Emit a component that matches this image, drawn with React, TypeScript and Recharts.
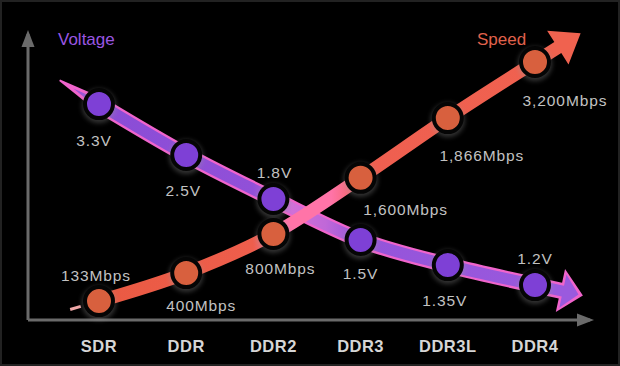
import React from 'react';
import { ComposedChart, Line, XAxis, YAxis, LabelList } from 'recharts';

// memory generations along the x axis
const categories = ['SDR', 'DDR', 'DDR2', 'DDR3', 'DDR3L', 'DDR4'];

// the picture is a schematic: heights (0-100)
const voltageLevel = [75.5, 57.7, 42.3, 28.0, 19.2, 12.2];
const speedLevel = [6.6, 16.4, 30.1, 49.7, 70.6, 90.2];

// printed values
const voltageLabels = ['3.3V', '2.5V', '1.8V', '1.5V', '1.35V', '1.2V'];
const speedLabels = ['133Mbps', '400Mbps', '800Mbps', '1,600Mbps', '1,866Mbps', '3,200Mbps'];

// where each value label sits relative to its dot (dx, dy)
const voltageLabelOffset: [number, number][] = [[-5, 36], [-3, 36], [1, -27], [0, 34], [-3, 35], [0, -27]];
const speedLabelOffset: [number, number][] = [[-3, -26], [15, 32], [7, 35], [45, 32], [34, 37], [30, 38]];

const FONT = '"Liberation Sans", Arial, sans-serif';

const rows = categories.map((name, i) => ({
  name,
  voltage: voltageLevel[i],
  speed: speedLevel[i],
  vLabel: voltageLabels[i],
  sLabel: speedLabels[i],
}));

const makeDot = (fill: string) => (props: any) => {
  const { cx, cy, index } = props;
  return (
    <g key={`dot-${fill}-${index}`}>
      <circle cx={cx} cy={cy + 2} r={17} fill="#9a9a9a" opacity={0.35} filter="url(#dotGlow)" />
      <circle cx={cx} cy={cy} r={14} fill={fill} stroke="#050505" strokeWidth={4} />
    </g>
  );
};

const makeLabel = (offsets: [number, number][]) => (props: any) => {
  const { x, y, value, index } = props;
  const [dx, dy] = offsets[index] || [0, 0];
  return (
    <text
      key={`lbl-${value}`}
      x={Number(x) + dx}
      y={Number(y) + dy}
      textAnchor="middle"
      dominantBaseline="central"
      fill="#c2c2c2"
      fontSize={15.5}
      letterSpacing={0.9}
      fontFamily={FONT}
    >
      {value}
    </text>
  );
};

export default function App() {
  return (
    <div style={{ position: 'absolute', left: 0, top: 0, width: 620, height: 366, background: '#000' }}>
      <ComposedChart width={620} height={366} data={rows} margin={{ top: 34, right: 30, bottom: 0, left: 26 }}>
        <defs>
          <filter id="dotGlow" x="-50%" y="-50%" width="200%" height="200%">
            <feGaussianBlur stdDeviation="2.5" />
          </filter>
          <marker id="axisArrow" viewBox="-14 -8 20 16" refX="0" refY="0" markerWidth="20" markerHeight="16"
            markerUnits="userSpaceOnUse" orient="auto-start-reverse">
            <path d="M-13,-6.5 L4,0 L-13,6.5 Z" fill="#6a6a6a" />
          </marker>
          <linearGradient id="vGrad" gradientUnits="userSpaceOnUse" x1="40" y1="0" x2="600" y2="0">
            <stop offset="0" stopColor="#c45ad0" />
            <stop offset="0.1" stopColor="#8a4cd6" />
            <stop offset="0.38" stopColor="#9150d8" />
            <stop offset="0.45" stopColor="#d070d8" />
            <stop offset="0.51" stopColor="#c068d8" />
            <stop offset="0.57" stopColor="#9554da" />
            <stop offset="1" stopColor="#9a5ade" />
          </linearGradient>
          <linearGradient id="sGrad" gradientUnits="userSpaceOnUse" x1="40" y1="0" x2="600" y2="0">
            <stop offset="0" stopColor="#e8583f" />
            <stop offset="0.38" stopColor="#ee5e4c" />
            <stop offset="0.43" stopColor="#ff74a8" />
            <stop offset="0.52" stopColor="#ff74a8" />
            <stop offset="0.58" stopColor="#ef5f50" />
            <stop offset="1" stopColor="#f0624f" />
          </linearGradient>
          <marker id="vTailOuter" viewBox="-50 -10 52 20" refX="0" refY="0" markerWidth="52" markerHeight="20"
            markerUnits="userSpaceOnUse" orient="auto">
            <path d="M0,-7 L0,7 L-46,0.8 L-46,-0.8 Z" fill="#f064cc" />
          </marker>
          <marker id="vTailInner" viewBox="-50 -10 52 20" refX="0" refY="0" markerWidth="52" markerHeight="20"
            markerUnits="userSpaceOnUse" orient="auto">
            <path d="M0,-4 L0,4 L-30,0 Z" fill="#9a55d8" />
          </marker>
          <marker id="vHeadOuter" viewBox="-2 -25 56 50" refX="0" refY="0" markerWidth="56" markerHeight="50"
            markerUnits="userSpaceOnUse" orient="auto">
            <path d="M0,-8 L26,-8 L26,-22 L49,0 L26,22 L26,8 L0,8 Z" fill="#f064cc" />
          </marker>
          <marker id="vHeadInner" viewBox="-2 -25 56 50" refX="0" refY="0" markerWidth="56" markerHeight="50"
            markerUnits="userSpaceOnUse" orient="auto">
            <path d="M0,-5.5 L28.5,-5.5 L28.5,-17 L44.5,0 L28.5,17 L28.5,5.5 L0,5.5 Z" fill="#9a5ade" />
          </marker>
          <marker id="sTail" viewBox="-40 -6 42 12" refX="0" refY="0" markerWidth="42" markerHeight="12"
            markerUnits="userSpaceOnUse" orient="auto">
            <rect x={-30} y={-1.5} width={11} height={3} fill="#f0a8a8" />
          </marker>
          <marker id="sHead" viewBox="-2 -24 60 48" refX="0" refY="0" markerWidth="60" markerHeight="48"
            markerUnits="userSpaceOnUse" orient="auto">
            <path d="M0,-6.5 L27,-6.5 L27,-20 L54,0 L27,20 L27,6.5 L0,6.5 Z" fill="#f0624f" />
          </marker>
        </defs>

        <XAxis
          dataKey="name"
          scale="point"
          padding={{ left: 71, right: 55 }}
          height={46}
          tickLine={false}
          tickSize={0}
          tickMargin={20}
          axisLine={{ stroke: '#6a6a6a', strokeWidth: 3, markerEnd: 'url(#axisArrow)' } as any}
          tick={{ fill: '#d6d6d6', fontSize: 16.5, fontWeight: 'bold', fontFamily: FONT, letterSpacing: 0.5 } as any}
        />
        <YAxis
          domain={[0, 100]}
          width={2}
          tick={false}
          tickLine={false}
          axisLine={{ stroke: '#6a6a6a', strokeWidth: 3, markerStart: 'url(#axisArrow)' } as any}
        />

        <Line
          type="monotone"
          dataKey="voltage"
          stroke="#f064cc"
          strokeWidth={16}
          dot={false}
          activeDot={false}
          markerStart="url(#vTailOuter)"
          markerEnd="url(#vHeadOuter)"
          isAnimationActive={false}
        />
        <Line
          type="monotone"
          dataKey="voltage"
          stroke="url(#vGrad)"
          strokeWidth={11.5}
          dot={makeDot('#7e40d6')}
          activeDot={false}
          markerStart="url(#vTailInner)"
          markerEnd="url(#vHeadInner)"
          isAnimationActive={false}
        >
          <LabelList dataKey="vLabel" content={makeLabel(voltageLabelOffset)} />
        </Line>
        <Line
          type="monotone"
          dataKey="speed"
          stroke="url(#sGrad)"
          strokeWidth={13}
          dot={makeDot('#d8603e')}
          activeDot={false}
          markerStart="url(#sTail)"
          markerEnd="url(#sHead)"
          isAnimationActive={false}
        >
          <LabelList dataKey="sLabel" content={makeLabel(speedLabelOffset)} />
        </Line>

        <text x={58} y={39} dominantBaseline="central" fill="#9a56e2" fontSize={17} fontFamily={FONT}>
          Voltage
        </text>
        <text x={477} y={39} dominantBaseline="central" fill="#e0624c" fontSize={17} fontFamily={FONT}>
          Speed
        </text>
      </ComposedChart>
      <div
        style={{
          position: 'absolute',
          inset: 0,
          border: '2px solid #222',
          pointerEvents: 'none',
        }}
      />
    </div>
  );
}
